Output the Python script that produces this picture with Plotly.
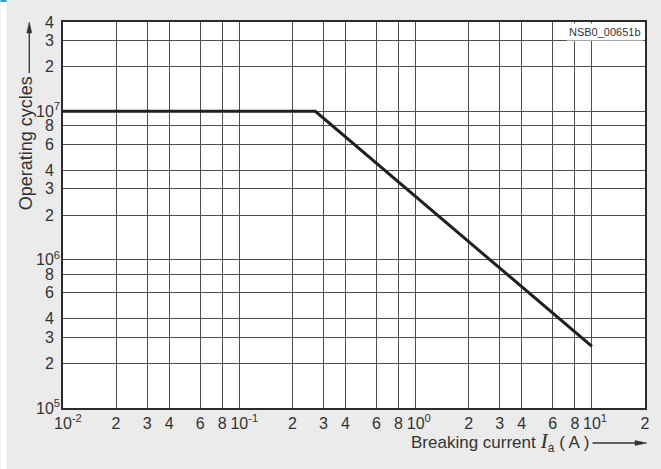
import plotly.graph_objects as go

# Endurance curve: operating cycles vs. breaking current
current_a = [0.01, 0.27, 10.0]
cycles = [1.0e7, 1.0e7, 2.6e5]

x_tickvals = [0.01, 0.02, 0.03, 0.04, 0.06, 0.08,
              0.1, 0.2, 0.3, 0.4, 0.6, 0.8,
              1, 2, 3, 4, 6, 8,
              10, 20]
x_ticklabels = ["10^-2", "2", "3", "4", "6", "8",
                "10^-1", "2", "3", "4", "6", "8",
                "10^0", "2", "3", "4", "6", "8",
                "10^1", "2"]

y_tickvals = [1e5, 2e5, 3e5, 4e5, 6e5, 8e5,
              1e6, 2e6, 3e6, 4e6, 6e6, 8e6,
              1e7, 2e7, 3e7, 4e7]
y_ticklabels = ["10^5", "2", "3", "4", "6", "8",
                "10^6", "2", "3", "4", "6", "8",
                "10^7", "2", "3", "4"]

HIDE = '<span style="color:rgba(0,0,0,0)">{}</span>'


def x_label(s):
    # power-of-ten labels keep the "10" centred on the tick
    if s.startswith("10^"):
        e = s[3:]
        return "<sup>" + HIDE.format(e) + "</sup>10<sup>" + e + "</sup>"
    return s


def y_label(s):
    # right-aligned labels: digits sit left of the hanging exponent
    if s.startswith("10^"):
        return "10<sup>" + s[3:] + "</sup>"
    return s + "<sup>" + HIDE.format("7") + "</sup>"


# plot-area geometry in pixels
W, H = 661, 469
L, R, T, B = 63, 650, 22, 408


def px(x):
    return (x - L) / (R - L)


def py(y):
    return (B - y) / (B - T)


INK = "#333333"
FONT = "Liberation Sans, Arial, sans-serif"

fig = go.Figure()
fig.add_trace(go.Scatter(
    x=current_a, y=cycles, mode="lines",
    line=dict(color="#231f20", width=3),
    hoverinfo="skip", showlegend=False,
))

axis_common = dict(
    type="log", showgrid=True, gridcolor="#4d4d4d", gridwidth=1,
    showline=True, mirror=True, linecolor="#2b2b2b", linewidth=1.5,
    ticks="", zeroline=False, tickangle=0,
    tickfont=dict(family=FONT, size=16, color=INK),
    tickmode="array",
)

fig.update_xaxes(range=[-2, 1.30103],
                 tickvals=x_tickvals,
                 ticktext=[x_label(s) for s in x_ticklabels],
                 **axis_common)
fig.update_yaxes(range=[5, 7.60206],
                 tickvals=y_tickvals,
                 ticktext=[y_label(s) for s in y_ticklabels],
                 ticklabelstandoff=-2,
                 **axis_common)

shapes = [
    # white strip on the left edge and blue corner mark
    dict(type="rect", xref="paper", yref="paper",
         x0=px(0), x1=px(6), y0=py(H), y1=py(0),
         fillcolor="white", line=dict(width=0), layer="below"),
    dict(type="rect", xref="paper", yref="paper",
         x0=px(0), x1=px(6), y0=py(2), y1=py(0),
         fillcolor="#1aa3e0", line=dict(width=0)),
    # y-title arrow
    dict(type="line", xref="paper", yref="paper",
         x0=px(29), x1=px(29), y0=py(73), y1=py(32),
         line=dict(color=INK, width=1.3)),
    dict(type="path", xref="paper", yref="paper",
         path="M {a},{b} L {c},{d} L {e},{f} Z".format(
             a=px(29), b=py(22), c=px(26.5), d=py(33),
             e=px(31.5), f=py(33)),
         fillcolor=INK, line=dict(color=INK, width=0.5)),
    # x-title arrow
    dict(type="line", xref="paper", yref="paper",
         x0=px(597), x1=px(641), y0=py(443), y1=py(443),
         line=dict(color=INK, width=1.3)),
    dict(type="path", xref="paper", yref="paper",
         path="M {a},{b} L {c},{d} L {e},{f} Z".format(
             a=px(652), b=py(443), c=px(640), d=py(440.5),
             e=px(640), f=py(445.5)),
         fillcolor=INK, line=dict(color=INK, width=0.5)),
]

annotations = [
    dict(text="Operating cycles", xref="paper", yref="paper",
         x=px(26), y=py(143), textangle=-90, showarrow=False,
         xanchor="center", yanchor="middle",
         font=dict(family=FONT, size=18, color=INK)),
    dict(text='Breaking current <span style="font-family:\'Liberation Serif\';'
              'font-size:22px"><i>I</i></span><sub>a</sub> ( A )',
         xref="paper", yref="paper", x=px(596), y=py(441),
         showarrow=False, xanchor="right", yanchor="middle",
         font=dict(family=FONT, size=17, color=INK)),
    dict(text="NSB0_00651b", xref="paper", yref="paper",
         x=px(648.5), y=py(23), xanchor="right", yanchor="top",
         showarrow=False, bgcolor="white", borderpad=2,
         font=dict(family=FONT, size=11, color=INK)),
]

fig.update_layout(
    width=W, height=H,
    margin=dict(l=L, r=W - R, t=T, b=H - B),
    paper_bgcolor="#ebebec", plot_bgcolor="white",
    shapes=shapes, annotations=annotations,
    showlegend=False,
)

fig.write_html("out.html")
